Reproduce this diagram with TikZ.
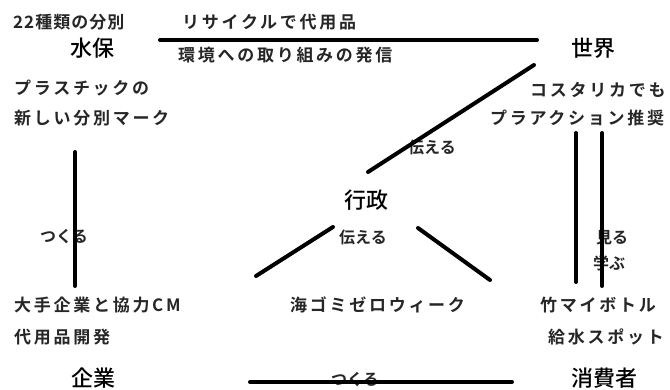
\documentclass[tikz,border=0pt]{standalone}
\usepackage{fontspec}
\newfontfamily\jpbody[LetterSpace=16]{Noto Sans CJK JP Bold}
\newfontfamily\jpnum[LetterSpace=6]{Noto Sans CJK JP Bold}
\newfontfamily\jptitle{Noto Sans CJK JP Medium}
\newfontfamily\jplabel{Noto Sans CJK JP Bold}
\tikzset{
  body/.style={inner sep=0pt, anchor=west, font=\jpbody\fontsize{17}{17}\selectfont, text=black!85},
  title/.style={inner sep=0pt, font=\jptitle\fontsize{22}{22}\selectfont},
  lab/.style={inner sep=0pt, font=\jplabel\fontsize{16}{16}\selectfont, text=black!85},
  link/.style={line width=4pt, line cap=round}
}
\begin{document}
\begin{tikzpicture}[x=1pt,y=-1pt]
\useasboundingbox[fill=white] (0,0) rectangle (670,390);
% titles
\node[title] (minamata) at (92,48) {水保};
\node[title] (world) at (593,48) {世界};
\node[title] (gov) at (366,200) {行政};
\node[title] (corp) at (93,378) {企業};
\node[title] (cons) at (604,378) {消費者};
% body texts
\node[body,font=\jpnum\fontsize{17}{17}\selectfont] (t1) at (13,22) {22種類の分別};
\node[body] (t2) at (182,22) {リサイクルで代用品};
\node[body] (t3) at (178,55) {環境への取り組みの発信};
\node[body] (t4) at (14,88) {プラスチックの};
\node[body] (t5) at (14,118) {新しい分別マーク};
\node[body] (t6) at (530,90) {コスタリカでも};
\node[body] (t7) at (490,118) {プラアクション推奨};
\node[body] (t8) at (290,305) {海ゴミゼロウィーク};
\node[body] (t9) at (14,305) {大手企業と協力CM};
\node[body] (t10) at (14,337) {代用品開発};
\node[body] (t11) at (540,305) {竹マイボトル};
\node[body] (t12) at (548,337) {給水スポット};
% connector endpoints
\coordinate (a1) at (160,40); \coordinate (a2) at (537,40);
\coordinate (b1) at (534,65); \coordinate (b2) at (368,172);
\coordinate (c1) at (75,152); \coordinate (c2) at (75,286);
\coordinate (d1) at (333,227); \coordinate (d2) at (256,276);
\coordinate (e1) at (418,228); \coordinate (e2) at (490,280);
\coordinate (f1) at (576,133); \coordinate (f2) at (576,282);
\coordinate (g1) at (602,133); \coordinate (g2) at (602,286);
\coordinate (h1) at (250,382); \coordinate (h2) at (512,382);
% labels
\node[lab] (l1) at (432,147) {伝える};
\node[lab] (l2) at (64,237) {つくる};
\node[lab] (l3) at (363,237) {伝える};
\node[lab] (l4) at (612,238) {見る};
\node[lab] (l5) at (609,263) {学ぶ};
\node[lab] (l6) at (355,380) {つくる};
% connectors
\draw[link] (a1) -- (a2);
\draw[link] (b1) -- (b2);
\draw[link] (c1) -- (c2);
\draw[link] (d1) -- (d2);
\draw[link] (e1) -- (e2);
\draw[link] (f1) -- (f2);
\draw[link] (g1) -- (g2);
\draw[link] (h1) -- (h2);
\end{tikzpicture}
\end{document}
